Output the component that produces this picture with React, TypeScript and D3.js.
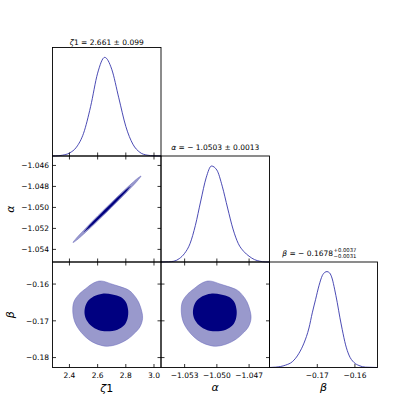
import * as d3 from 'd3';

// 1D marginal densities (normalised to peak = 1)
const zetaGrid = [2.28, 2.3, 2.35, 2.4, 2.45, 2.5, 2.55, 2.6, 2.65, 2.7, 2.75, 2.8, 2.85, 2.9, 2.95, 3.0, 3.05];
const zetaDens = [0.0005, 0.001, 0.008, 0.03, 0.09, 0.23, 0.5, 0.84, 1.0, 0.88, 0.59, 0.3, 0.12, 0.037, 0.009, 0.002, 0.0003];

const alphaGrid = [-1.0552, -1.0545, -1.054, -1.0535, -1.053, -1.0525, -1.052, -1.0515, -1.051, -1.0505, -1.05, -1.0495, -1.049, -1.0485, -1.048, -1.0475, -1.047, -1.0465, -1.046, -1.0455, -1.0451];
const alphaDens = [0.0002, 0.002, 0.008, 0.035, 0.09, 0.19, 0.38, 0.633, 0.873, 0.996, 0.954, 0.787, 0.56, 0.343, 0.19, 0.11, 0.06, 0.025, 0.008, 0.001, 0.0002];

const betaGrid = [-0.1827, -0.18106, -0.17841, -0.17664, -0.17487, -0.17354, -0.17221, -0.17133, -0.17044, -0.16956, -0.16867, -0.16796, -0.16743, -0.16673, -0.16602, -0.1654, -0.16469, -0.16398, -0.16336, -0.16248, -0.16159, -0.16027, -0.15894, -0.15717, -0.154];
const betaDens = [0, 0.0035, 0.025, 0.06, 0.148, 0.254, 0.412, 0.57, 0.711, 0.852, 0.958, 0.993, 1.0, 0.986, 0.923, 0.817, 0.676, 0.518, 0.394, 0.236, 0.13, 0.053, 0.021, 0.0035, 0];

// zeta1 - alpha: thin degenerate ellipse (upper / lower edges)
const zaOuterZeta = [2.425, 2.45, 2.5, 2.55, 2.6, 2.6665, 2.73, 2.78, 2.83, 2.88, 2.908];
const zaOuterUp = [-1.05335, -1.05291, -1.05219, -1.05149, -1.05081, -1.04993, -1.04911, -1.04847, -1.04785, -1.04726, -1.04701];
const zaOuterLo = [-1.05335, -1.05313, -1.05255, -1.05193, -1.05129, -1.05043, -1.04959, -1.04891, -1.04821, -1.0475, -1.04701];
const zaInnerZeta = [2.5, 2.53, 2.58, 2.63, 2.6675, 2.71, 2.76, 2.81, 2.835];
const zaInnerUp = [-1.05237, -1.05188, -1.05118, -1.0505, -1.05001, -1.04946, -1.04882, -1.04822, -1.04797];
const zaInnerLo = [-1.05237, -1.05206, -1.05146, -1.05082, -1.05033, -1.04977, -1.04908, -1.04838, -1.04797];

// zeta1 - beta contours
const zbOuterZeta = [2.6095, 2.6452, 2.6929, 2.7524, 2.8238, 2.8595, 2.8905, 2.9143, 2.919, 2.9, 2.8595, 2.8119, 2.7405, 2.669, 2.6214, 2.5619, 2.5143, 2.4714, 2.4381, 2.4238, 2.431, 2.4667, 2.5143, 2.5619];
const zbOuterBeta = [-0.15919, -0.15928, -0.15991, -0.16063, -0.16172, -0.16308, -0.16489, -0.1676, -0.16941, -0.17167, -0.17348, -0.17502, -0.17638, -0.17692, -0.17665, -0.17575, -0.17439, -0.17258, -0.17032, -0.1676, -0.16489, -0.16281, -0.16127, -0.15991];
const zbInnerZeta = [2.6333, 2.7048, 2.7643, 2.8, 2.8167, 2.8119, 2.7881, 2.7405, 2.669, 2.6095, 2.55, 2.5143, 2.5071, 2.5262, 2.5738];
const zbInnerBeta = [-0.16262, -0.16281, -0.16353, -0.16489, -0.16715, -0.16941, -0.17122, -0.1724, -0.17285, -0.17258, -0.17122, -0.16923, -0.16715, -0.16489, -0.16335];

// alpha - beta contours
const abOuterAlpha = [-1.05088, -1.05041, -1.04978, -1.049, -1.04807, -1.0476, -1.04719, -1.04688, -1.04682, -1.04707, -1.0476, -1.04822, -1.04916, -1.0501, -1.05072, -1.0515, -1.05213, -1.05269, -1.05313, -1.05331, -1.05322, -1.05275, -1.05213, -1.0515];
const abInnerAlpha = [-1.05057, -1.04963, -1.04885, -1.04838, -1.04816, -1.04822, -1.04854, -1.04916, -1.0501, -1.05088, -1.05166, -1.05213, -1.05222, -1.05197, -1.05135];

// ticks
const zetaTicks = [2.4, 2.6, 2.8, 3.0];
const zetaTickLabels = ['2.4', '2.6', '2.8', '3.0'];
const alphaXTicks = [-1.053, -1.05, -1.047];
const alphaXTickLabels = ['\u22121.053', '\u22121.050', '\u22121.047'];
const alphaYTicks = [-1.046, -1.048, -1.05, -1.052, -1.054];
const alphaYTickLabels = ['\u22121.046', '\u22121.048', '\u22121.050', '\u22121.052', '\u22121.054'];
const betaYTicks = [-0.16, -0.17, -0.18];
const betaYTickLabels = ['\u22120.16', '\u22120.17', '\u22120.18'];
const betaXTicks = [-0.17, -0.16];
const betaXTickLabels = ['\u22120.17', '\u22120.16'];

// shared edges on whole pixels (render greyish 2px like the original), outer edges on pixel centres
const cols = [52.5, 161, 269.5, 377.5];
const rows = [47.5, 156, 262, 367.5];

const NAVY = '#000080';
const LIGHT = '#9999cc';
const LINE = '#2b2ba6';
const FONT = 'DejaVu Sans';
const TL = 3.5;

const xZeta = d3.scaleLinear().domain([2.2797, 3.0497]).range([cols[0], cols[1]]);
const xAlpha = d3.scaleLinear().domain([-1.0552, -1.0451]).range([cols[1], cols[2]]);
const yAlpha = d3.scaleLinear().domain([-1.0552, -1.0451]).range([rows[2], rows[1]]);
const xBeta = d3.scaleLinear().domain([-0.1827, -0.154]).range([cols[2], cols[3]]);
const yBeta = d3.scaleLinear().domain([-0.1827, -0.154]).range([rows[3], rows[2]]);

function densLine(grid: number[], dens: number[], x: d3.ScaleLinear<number, number>, row: number) {
  const y = d3.scaleLinear().domain([0, 1.1]).range([rows[row + 1], rows[row]]);
  return d3.line<number>()
    .x((_, i) => x(grid[i]))
    .y((d) => y(d))
    .curve(d3.curveMonotoneX)(dens) || '';
}

function closedPath(xs: number[], ys: number[], x: d3.ScaleLinear<number, number>, y: d3.ScaleLinear<number, number>) {
  const pts: [number, number][] = xs.map((v, i) => [x(v), y(ys[i])]);
  return d3.line().curve(d3.curveCatmullRomClosed.alpha(0.5))(pts) || '';
}

function ellipsePath(xs: number[], up: number[], lo: number[]) {
  const pts: [number, number][] = [];
  xs.forEach((v, i) => pts.push([xZeta(v), yAlpha(up[i])]));
  for (let i = xs.length - 2; i >= 1; i--) pts.push([xZeta(xs[i]), yAlpha(lo[i])]);
  return d3.line().curve(d3.curveCatmullRomClosed.alpha(0.5))(pts) || '';
}

type Side = 'top' | 'bottom' | 'left' | 'right';
function Ticks({ scale, values, side, c, r }: { scale: d3.ScaleLinear<number, number>; values: number[]; side: Side; c: number; r: number }) {
  return (
    <g stroke="#000" strokeWidth={0.8}>
      {values.map((v) => {
        const p = scale(v);
        if (side === 'bottom') return <line key={v} x1={p} x2={p} y1={rows[r + 1]} y2={rows[r + 1] - TL} />;
        if (side === 'top') return <line key={v} x1={p} x2={p} y1={rows[r]} y2={rows[r] + TL} />;
        if (side === 'left') return <line key={v} x1={cols[c]} x2={cols[c] + TL} y1={p} y2={p} />;
        return <line key={v} x1={cols[c + 1]} x2={cols[c + 1] - TL} y1={p} y2={p} />;
      })}
    </g>
  );
}

function Frame({ c, r }: { c: number; r: number }) {
  return (
    <rect x={cols[c]} y={rows[r]} width={cols[c + 1] - cols[c]} height={rows[r + 1] - rows[r]}
      fill="none" stroke="#000" strokeWidth={0.9} />
  );
}

export default function App() {
  const outerStroke = '#6666bb';
  return (
    <svg width={420} height={420} style={{ position: 'absolute', left: 0, top: 0, background: '#fff' }}
      fontFamily={FONT}>
      <rect width={420} height={420} fill="#fff" />

      {/* row 0: zeta1 marginal */}
      <path d={densLine(zetaGrid, zetaDens, xZeta, 0)} fill="none" stroke={LINE} strokeWidth={0.85} />

      {/* row 1: zeta1-alpha and alpha marginal */}
      <path d={ellipsePath(zaOuterZeta, zaOuterUp, zaOuterLo)} fill={LIGHT} stroke={outerStroke} strokeWidth={0.5} />
      <path d={ellipsePath(zaInnerZeta, zaInnerUp, zaInnerLo)} fill={NAVY} stroke="none" />
      <path d={densLine(alphaGrid, alphaDens, xAlpha, 1)} fill="none" stroke={LINE} strokeWidth={0.85} />

      {/* row 2: zeta1-beta, alpha-beta, beta marginal */}
      <path d={closedPath(zbOuterZeta, zbOuterBeta, xZeta, yBeta)} fill={LIGHT} stroke={outerStroke} strokeWidth={0.5} />
      <path d={closedPath(zbInnerZeta, zbInnerBeta, xZeta, yBeta)} fill={NAVY} />
      <path d={closedPath(abOuterAlpha, zbOuterBeta, xAlpha, yBeta)} fill={LIGHT} stroke={outerStroke} strokeWidth={0.5} />
      <path d={closedPath(abInnerAlpha, zbInnerBeta, xAlpha, yBeta)} fill={NAVY} />
      <path d={densLine(betaGrid, betaDens, xBeta, 2)} fill="none" stroke={LINE} strokeWidth={0.85} />

      {/* frames */}
      <Frame c={0} r={0} />
      <Frame c={0} r={1} />
      <Frame c={1} r={1} />
      <Frame c={0} r={2} />
      <Frame c={1} r={2} />
      <Frame c={2} r={2} />

      {/* ticks */}
      <Ticks scale={xZeta} values={zetaTicks} side="bottom" c={0} r={0} />
      <Ticks scale={xZeta} values={zetaTicks} side="top" c={0} r={1} />
      <Ticks scale={xZeta} values={zetaTicks} side="bottom" c={0} r={1} />
      <Ticks scale={yAlpha} values={alphaYTicks} side="left" c={0} r={1} />
      <Ticks scale={yAlpha} values={alphaYTicks} side="right" c={0} r={1} />
      <Ticks scale={xAlpha} values={alphaXTicks} side="bottom" c={1} r={1} />
      <Ticks scale={xZeta} values={zetaTicks} side="top" c={0} r={2} />
      <Ticks scale={xZeta} values={zetaTicks} side="bottom" c={0} r={2} />
      <Ticks scale={yBeta} values={betaYTicks} side="left" c={0} r={2} />
      <Ticks scale={yBeta} values={betaYTicks} side="right" c={0} r={2} />
      <Ticks scale={xAlpha} values={alphaXTicks} side="top" c={1} r={2} />
      <Ticks scale={xAlpha} values={alphaXTicks} side="bottom" c={1} r={2} />
      <Ticks scale={yBeta} values={betaYTicks} side="left" c={1} r={2} />
      <Ticks scale={yBeta} values={betaYTicks} side="right" c={1} r={2} />
      <Ticks scale={xBeta} values={betaXTicks} side="bottom" c={2} r={2} />

      {/* tick labels */}
      <g fontSize={7.5} fill="#000">
        {zetaTicks.map((v, i) => (
          <text key={'zx' + i} x={xZeta(v)} y={rows[3] + 10} textAnchor="middle">{zetaTickLabels[i]}</text>
        ))}
        {alphaXTicks.map((v, i) => (
          <text key={'ax' + i} x={xAlpha(v)} y={rows[3] + 10} textAnchor="middle">{alphaXTickLabels[i]}</text>
        ))}
        {betaXTicks.map((v, i) => (
          <text key={'bx' + i} x={xBeta(v)} y={rows[3] + 10} textAnchor="middle">{betaXTickLabels[i]}</text>
        ))}
        {alphaYTicks.map((v, i) => (
          <text key={'ay' + i} x={cols[0] - 3.5} y={yAlpha(v) + 2.7} textAnchor="end">{alphaYTickLabels[i]}</text>
        ))}
        {betaYTicks.map((v, i) => (
          <text key={'by' + i} x={cols[0] - 3.5} y={yBeta(v) + 2.7} textAnchor="end">{betaYTickLabels[i]}</text>
        ))}
      </g>

      {/* axis labels */}
      <g fontSize={11} fill="#000">
        <text x={(cols[0] + cols[1]) / 2} y={392} textAnchor="middle">
          <tspan fontStyle="italic">ζ</tspan>1
        </text>
        <text x={(cols[1] + cols[2]) / 2} y={391} textAnchor="middle" fontStyle="italic">α</text>
        <text x={(cols[2] + cols[3]) / 2} y={391} textAnchor="middle" fontStyle="italic">β</text>
        <text transform={`translate(14,${(rows[1] + rows[2]) / 2}) rotate(-90)`} textAnchor="middle" fontStyle="italic">α</text>
        <text transform={`translate(14,${(rows[2] + rows[3]) / 2}) rotate(-90)`} textAnchor="middle" fontStyle="italic">β</text>
      </g>

      {/* titles */}
      <g fontSize={7.5} fill="#000">
        <text x={(cols[0] + cols[1]) / 2} y={44.5} textAnchor="middle">
          <tspan fontStyle="italic">ζ</tspan>1 = 2.661 ± 0.099
        </text>
        <text x={(cols[1] + cols[2]) / 2} y={150} textAnchor="middle">
          <tspan fontStyle="italic">α</tspan> = − 1.0503 ± 0.0013
        </text>
        <text x={333} y={256} textAnchor="end">
          <tspan fontStyle="italic">β</tspan> = − 0.1678
        </text>
        <text x={333.5} y={251.5} fontSize={5.3}>+0.0037</text>
        <text x={333.5} y={258} fontSize={5.3}>−0.0031</text>
      </g>
    </svg>
  );
}
